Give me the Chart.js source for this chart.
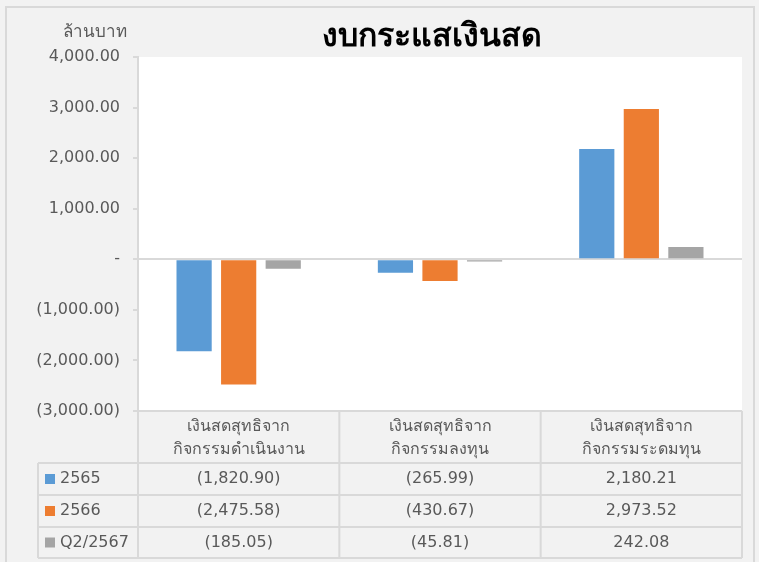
<!DOCTYPE html>
<html>
<head>
<meta charset="utf-8">
<script src="https://cdn.jsdelivr.net/npm/chart.js@4"></script>
<style>
  html, body { margin: 0; padding: 0; background: #f2f2f2; }
  #wrap { width: 759px; height: 562px; }
</style>
</head>
<body>
<div id="wrap"><canvas id="graficoFlujo" width="759" height="562"></canvas></div>
<script>
// datos del grafico
const categorias = [
    ['เงินสดสุทธิจาก', 'กิจกรรมดำเนินงาน'],
    ['เงินสดสุทธิจาก', 'กิจกรรมลงทุน'],
    ['เงินสดสุทธิจาก', 'กิจกรรมระดมทุน']
];
const series = ['2565', '2566', 'Q2/2567'];
const valores2565 = [-1820.90, -265.99, 2180.21];
const valores2566 = [-2475.58, -430.67, 2973.52];
const valoresQ2_2567 = [-185.05, -45.81, 242.08];
const titulo = 'งบกระแสเงินสด';
const unidad = 'ล้านบาท';

const colores = ['#5b9bd5', '#ed7d31', '#a5a5a5'];
const fuente = "Tahoma, 'DejaVu Sans', sans-serif";
const gris = '#595959';
const lineaTabla = '#d9d9d9';

function formato(v) {
    if (v === 0) return '-';
    let s = Math.abs(v).toLocaleString('en-US', { minimumFractionDigits: 2, maximumFractionDigits: 2 });
    return v < 0 ? '(' + s + ')' : s;
}

const tablaDatos = {
    id: 'tablaDatos',
    beforeDraw(chart) {
        const c = chart.ctx;
        const a = chart.chartArea;
        c.save();
        c.fillStyle = '#f2f2f2';
        c.fillRect(0, 0, chart.width, chart.height);
        c.strokeStyle = lineaTabla;
        c.lineWidth = 2;
        c.strokeRect(6, 7, 748, 570);
        c.fillStyle = '#ffffff';
        c.fillRect(a.left, a.top, a.right - a.left, a.bottom - a.top);
        c.restore();
    },
    afterDraw(chart) {
        const c = chart.ctx;
        const a = chart.chartArea;
        const x = chart.scales.x;
        const ancho = (a.right - a.left) / categorias.length;
        const filas = [a.bottom, a.bottom + 52, a.bottom + 84, a.bottom + 116, a.bottom + 147];
        const izq = 38;
        c.save();
        // titulo y unidad
        c.fillStyle = '#000000';
        c.font = 'bold 32px ' + fuente;
        c.textAlign = 'center';
        c.textBaseline = 'middle';
        c.fillText(titulo, 432, 38);
        c.fillStyle = gris;
        c.font = '17px ' + fuente;
        c.textAlign = 'right';
        c.fillText(unidad, 127, 33);

        // lineas de la tabla
        c.strokeStyle = lineaTabla;
        c.lineWidth = 2;
        c.beginPath();
        c.moveTo(a.left, filas[0]); c.lineTo(a.right, filas[0]);
        for (let i = 1; i < filas.length; i++) {
            c.moveTo(izq, filas[i]); c.lineTo(a.right, filas[i]);
        }
        for (let j = 0; j <= categorias.length; j++) {
            let px = a.left + j * ancho;
            c.moveTo(px, filas[0]); c.lineTo(px, filas[4]);
        }
        c.moveTo(izq, filas[1]); c.lineTo(izq, filas[4]);
        c.stroke();

        // encabezados
        c.fillStyle = gris;
        c.font = '16px ' + fuente;
        c.textAlign = 'center';
        categorias.forEach((lineas, i) => {
            let px = x.getPixelForValue(i);
            c.fillText(lineas[0], px, filas[0] + 16);
            c.fillText(lineas[1], px, filas[0] + 39);
        });

        // filas con valores
        const datos = chart.data.datasets;
        datos.forEach((ds, k) => {
            let cy = (filas[k + 1] + filas[k + 2]) / 2;
            c.fillStyle = ds.backgroundColor;
            c.fillRect(45, cy - 5, 10, 10);
            c.fillStyle = gris;
            c.textAlign = 'left';
            c.fillText(ds.label, 60, cy);
            c.textAlign = 'center';
            ds.data.forEach((v, i) => {
                c.fillText(formato(v), x.getPixelForValue(i), cy);
            });
        });
        c.restore();
    }
};

const ctx = document.getElementById('graficoFlujo').getContext('2d');

let chart = new Chart(ctx, {
    type: 'bar',
    data: {
        labels: categorias,
        datasets: [
            { label: series[0], data: valores2565, backgroundColor: colores[0] },
            { label: series[1], data: valores2566, backgroundColor: colores[1] },
            { label: series[2], data: valoresQ2_2567, backgroundColor: colores[2] }
        ]
    },
    options: {
        responsive: false,
        animation: false,
        events: [],
        categoryPercentage: 0.664,
        barPercentage: 0.79,
        layout: { padding: { left: 0, right: 17, top: 57, bottom: 151 } },
        plugins: {
            legend: { display: false },
            tooltip: { enabled: false },
            title: { display: false }
        },
        scales: {
            x: { display: false },
            y: {
                min: -3000,
                max: 4000,
                afterFit(scale) { scale.width = 138; },
                border: { color: lineaTabla, width: 2 },
                grid: {
                    color: c => c.tick && c.tick.value === 0 ? lineaTabla : 'rgba(0,0,0,0)',
                    lineWidth: 2,
                    tickColor: lineaTabla,
                    tickLength: 5
                },
                ticks: {
                    stepSize: 1000,
                    padding: 13,
                    color: gris,
                    font: { family: fuente, size: 16 },
                    callback: v => formato(v)
                }
            }
        }
    },
    plugins: [tablaDatos]
});
</script>
</body>
</html>
